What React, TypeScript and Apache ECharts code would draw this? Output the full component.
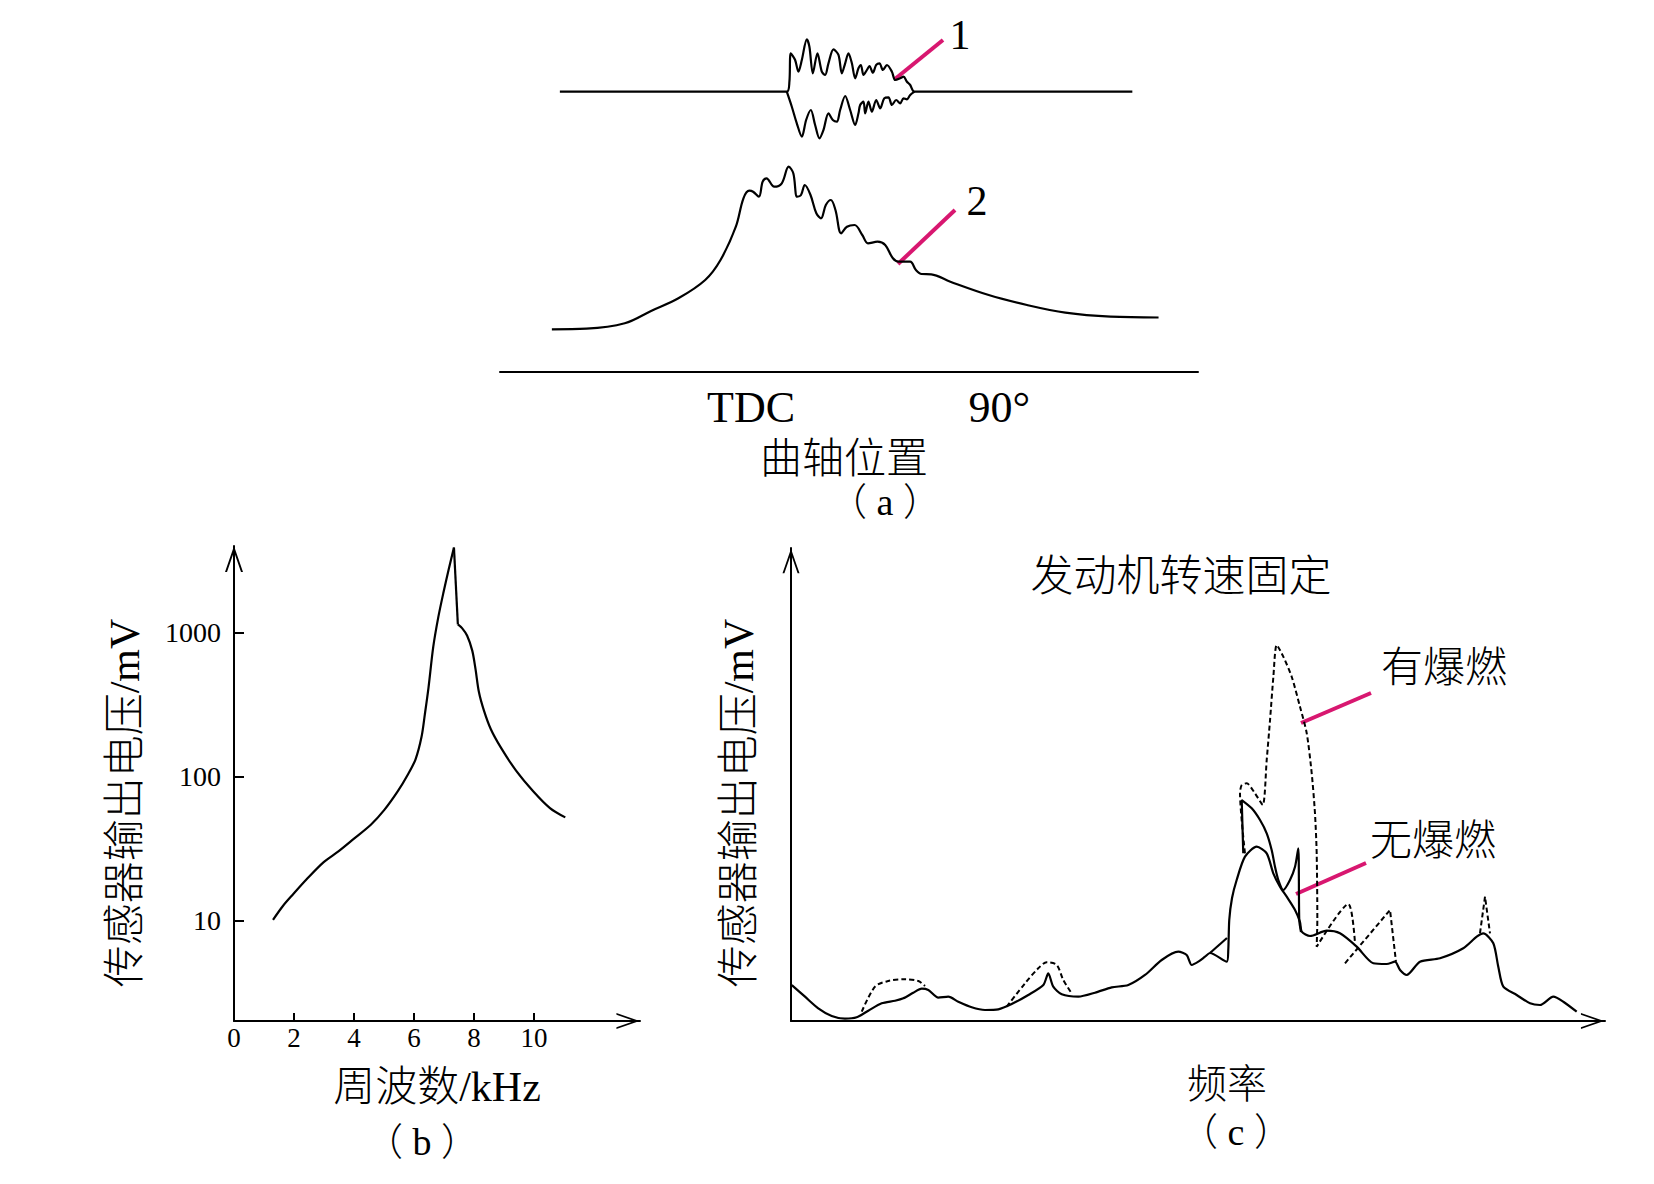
import React, { useEffect, useRef } from "react";
import * as echarts from "echarts";

// ---------- Panel (a): crank angle in degrees (TDC = 0), arbitrary amplitude ----------
const crankTicks = [0, 90];
const crankTickLabels = ["TDC", "90°"];

const vibrationUpper: number[][] = [
  [-69.3, 77.86], [12.95, 77.86], [13.9, 80.64], [14.4, 88.53], [15.97, 86.67], [17.16, 83.42],
  [18.4, 86.67], [20.21, 92.42], [21.15, 90.36], [22.39, 82.97], [24.06, 88.53], [25.65, 83.42],
  [26.85, 82.5], [28.05, 85.75], [29.86, 89.64], [31.68, 88.06], [32.91, 82.97], [34.11, 85.75],
  [35.3, 88.53], [36.54, 85.75], [37.74, 81.58], [38.93, 84.36], [39.8, 85.28], [40.75, 82.5],
  [41.98, 83.89], [42.92, 85.0], [44.16, 83.14], [45.36, 85.28], [46.55, 85.75], [47.79, 83.89],
  [49.24, 85.28], [51.05, 83.42], [52.25, 81.11], [54.06, 81.58], [55.26, 82.03], [56.49, 80.64],
  [57.69, 79.72], [59.25, 77.86], [138.2, 77.86],
];
const vibrationLower: number[][] = [
  [12.95, 77.86], [14.77, 73.69], [16.58, 69.08], [18.4, 65.36], [19.96, 70.0], [21.66, 72.78],
  [23.22, 68.61], [24.78, 64.92], [26.23, 67.22], [28.05, 71.86], [29.64, 70.0], [31.1, 69.53],
  [32.29, 72.78], [34.11, 76.67], [35.92, 72.78], [37.74, 68.61], [38.93, 71.86], [39.55, 74.17],
  [40.75, 75.08], [41.36, 71.86], [42.56, 75.08], [43.79, 72.31], [45.36, 75.56], [46.81, 73.25],
  [48.26, 76.03], [49.82, 76.31], [51.05, 74.17], [52.61, 75.56], [54.06, 74.64], [55.26, 76.03],
  [56.49, 75.75], [57.69, 76.94], [59.25, 77.86],
];
const pressureTrace: number[][] = [
  [-72.2, 11.86], [-59.69, 12.03], [-45.79, 13.53], [-36.07, 17.03], [-26.34, 20.47], [-16.62, 25.56],
  [-11.07, 31.11], [-5.52, 40.36], [-2.76, 48.25], [-0.65, 50.36], [0.73, 50.08], [2.83, 48.69],
  [4.21, 52.86], [5.59, 53.81], [8.38, 51.47], [11.14, 52.42], [13.64, 57.03], [15.31, 55.19],
  [16.69, 48.69], [18.11, 49.17], [19.48, 51.94], [21.55, 49.17], [23.66, 44.08], [25.33, 42.69],
  [27.1, 46.39], [28.92, 47.78], [30.59, 45.0], [32.66, 38.53], [34.76, 40.36], [37.52, 40.83],
  [40.31, 38.06], [42.38, 35.75], [45.86, 36.19], [48.62, 35.28], [51.42, 31.58], [53.48, 30.64],
  [57.66, 30.64], [59.76, 28.33], [61.83, 27.22], [65.31, 27.14], [72.24, 25.08], [86.14, 21.39],
  [100.0, 18.61], [113.9, 16.47], [130.3, 15.36], [147.7, 15.14],
];

// ---------- Panel (b): frequency (kHz) vs sensor output (mV), log scale ----------
const kHzTicks = [0, 2, 4, 6, 8, 10];
const mVTicks = [10, 100, 1000];
const resonanceRise: number[][] = [
  [1.3, 10.1], [1.63, 12.6], [1.97, 15.2], [2.42, 19.3], [2.98, 25.3], [3.49, 30.3], [4.0, 37.0],
  [4.56, 46.2], [5.01, 58.6], [5.46, 79.1], [5.8, 103.7], [6.05, 131.8], [6.25, 188.9], [6.36, 270.5],
  [6.48, 411.9], [6.64, 795.6], [6.81, 1286], [6.98, 1900], [7.15, 2722], [7.33, 3899],
];
const resonanceFall: number[][] = [
  [7.46, 1141], [7.6, 1075], [7.77, 952], [7.94, 750], [8.05, 556], [8.16, 388], [8.33, 287],
  [8.56, 213], [8.9, 158], [9.4, 110], [9.97, 79.1], [10.53, 60.4], [11.04, 52.0],
];

// ---------- Panel (c): frequency vs sensor output, arbitrary units ----------
const noKnockSpectrum: number[][] = [
  [0.1, 7.6], [1.72, 5.14], [3.35, 2.68], [5.0, 1.06], [6.63, 0.49], [8.07, 0.78], [9.5, 2.18],
  [11.14, 3.74], [12.78, 4.29], [13.8, 4.8], [15.02, 5.98], [16.06, 6.83], [16.87, 6.55], [18.1, 4.93],
  [19.32, 5.14], [20.55, 4.08], [22.2, 2.9], [23.83, 2.33], [25.47, 2.47], [27.11, 3.59], [29.15, 5.5],
  [31.0, 7.61], [31.61, 10.08], [32.22, 7.25], [33.26, 5.64], [35.3, 5.14], [37.35, 5.98], [39.4, 7.12],
  [41.44, 7.61], [43.49, 9.73], [45.54, 12.9], [47.58, 14.65], [48.61, 13.95], [49.23, 11.84],
  [50.04, 12.54], [50.86, 13.59], [51.47, 14.38], [53.53, 12.54], [53.72, 15.01], [53.84, 21.35],
  [54.18, 26.0], [54.75, 29.81], [55.77, 34.74], [57.21, 36.85], [58.44, 35.45], [59.25, 31.23],
  [60.07, 28.39], [60.9, 26.28], [61.92, 23.47], [62.53, 20.93], [62.74, 18.88], [63.76, 17.97],
  [65.81, 19.09], [67.44, 18.54], [69.5, 15.71], [71.54, 12.2], [73.18, 12.05], [74.2, 12.54],
  [74.82, 10.78], [75.64, 9.73], [77.27, 12.54], [79.73, 13.26], [82.59, 15.37], [84.24, 17.82],
  [85.05, 18.54], [86.28, 16.43], [86.89, 11.48], [87.51, 7.25], [89.15, 5.5], [90.79, 3.74],
  [92.01, 3.38], [93.65, 5.14], [94.88, 4.08], [96.52, 1.97],
];
const knockSolidRamp: number[][] = [[51.47, 14.38], [53.56, 17.55]];
const knockSolidArc: number[][] = [
  [55.56, 35.45], [55.37, 46.72], [56.6, 44.97], [57.62, 42.49], [58.44, 39.68], [59.05, 36.15],
  [59.46, 32.62], [59.87, 29.81], [60.48, 27.7], [61.3, 29.81], [61.92, 32.62], [62.32, 36.51],
  [62.44, 21.35], [62.65, 18.82],
];
const knockDashedLow1: number[][] = [
  [8.69, 1.97], [10.32, 7.25], [11.95, 8.46], [14.0, 8.82], [15.64, 8.46], [16.46, 7.4],
];
const knockDashedLow2: number[][] = [
  [26.5, 3.02], [28.75, 7.97], [30.38, 11.14], [31.41, 12.41], [32.64, 11.84], [33.45, 8.67], [34.48, 5.86],
];
const knockDashedPeak: number[][] = [
  [55.77, 35.45], [55.16, 48.14], [55.37, 49.89], [55.98, 50.25], [57.0, 48.14], [57.95, 45.67],
  [58.44, 55.18], [58.85, 63.64], [59.26, 72.79], [59.67, 79.49], [60.48, 77.02], [61.51, 72.79],
  [62.53, 66.45], [63.36, 60.82], [63.97, 52.37], [64.37, 43.91], [64.58, 35.45], [64.66, 21.35],
  [64.58, 15.71], [68.46, 24.74], [69.29, 16.43],
];
const knockDashedZig: number[][] = [[68.06, 12.2], [73.59, 23.47], [74.32, 12.54]];
const knockDashedTip: number[][] = [[84.64, 18.54], [85.26, 26.28], [85.87, 18.54]];

// ---------- styling ----------
const SERIF = "'Liberation Serif', 'Times New Roman', 'Noto Sans CJK SC', serif";
const INK = "#000";
const ACCENT = "#d81770";
const ARROW = "path://M9,0L18,26L16,26L9,5.8L2,26L0,26Z";

const axisLineArrow = (w: number, h: number) => ({
  show: true,
  onZero: false,
  symbol: ["none", ARROW],
  symbolSize: [w, h],
  symbolOffset: [0, -h / 2],
  lineStyle: { color: INK, width: 2 },
});

const solid = (data: number[][], idx: number, smooth: number | boolean = 0.3) => ({
  type: "line",
  xAxisIndex: idx,
  yAxisIndex: idx,
  data,
  symbol: "none",
  smooth,
  silent: true,
  clip: false,
  emphasis: { disabled: true },
  lineStyle: { color: INK, width: 2.2, type: "solid" },
});
const dashed = (data: number[][], idx: number, smooth: number | boolean = 0.3) => ({
  ...solid(data, idx, smooth),
  lineStyle: { color: INK, width: 2, type: [5, 3] },
});

const txt = (text: string, x: number, y: number, fontSize: number, rotation = 0, fontWeight = 300) => ({
  type: "text",
  x,
  y,
  rotation,
  silent: true,
  style: {
    text, fontSize, fontFamily: SERIF, fontWeight, fill: INK, align: "center", verticalAlign: "middle",
  },
});
const leader = (x1: number, y1: number, x2: number, y2: number) => ({
  type: "line",
  silent: true,
  shape: { x1, y1, x2, y2 },
  style: { stroke: ACCENT, lineWidth: 4 },
});

const option: any = {
  animation: false,
  backgroundColor: "#fff",
  grid: [
    { left: 500, right: 456, top: 12, bottom: 812, outerBoundsMode: "none" },
    { left: 234, right: 1014, top: 546, bottom: 163, outerBoundsMode: "none" },
    { left: 791, right: 49, top: 548, bottom: 163, outerBoundsMode: "none" },
  ],
  xAxis: [
    {
      gridIndex: 0, type: "value", min: -91, max: 162,
      axisLine: { show: true, onZero: false, lineStyle: { color: INK, width: 2 } },
      axisTick: { show: false },
      splitLine: { show: false },
      axisLabel: {
        customValues: crankTicks,
        formatter: (v: number) => crankTickLabels[crankTicks.indexOf(v)] ?? "",
        fontSize: 44, fontFamily: SERIF, color: INK, margin: 13,
      },
    },
    {
      gridIndex: 1, type: "value", min: 0, max: 13.53,
      axisLine: axisLineArrow(16, 24),
      axisTick: { show: true, inside: true, length: 8, customValues: kHzTicks, lineStyle: { color: INK, width: 2 } },
      splitLine: { show: false },
      axisLabel: {
        customValues: kHzTicks, formatter: (v: number) => String(v),
        fontSize: 27, fontFamily: SERIF, color: INK, margin: 3,
      },
    },
    {
      gridIndex: 2, type: "value", min: 0, max: 100,
      axisLine: axisLineArrow(16, 25),
      axisTick: { show: false }, axisLabel: { show: false }, splitLine: { show: false },
    },
  ],
  yAxis: [
    { gridIndex: 0, type: "value", min: 0, max: 100, show: false },
    {
      gridIndex: 1, type: "log", logBase: 10, min: 2, max: 4000,
      axisLine: axisLineArrow(18, 26),
      axisTick: { show: true, inside: true, length: 10, customValues: mVTicks, lineStyle: { color: INK, width: 2 } },
      splitLine: { show: false },
      axisLabel: {
        customValues: mVTicks, formatter: (v: number) => String(Math.round(v)),
        fontSize: 28, fontFamily: SERIF, color: INK, margin: 13,
      },
    },
    {
      gridIndex: 2, type: "value", min: 0, max: 100,
      axisLine: axisLineArrow(17, 26),
      axisTick: { show: false }, axisLabel: { show: false }, splitLine: { show: false },
    },
  ],
  series: [
    solid(vibrationUpper, 0, 0.3),
    solid(vibrationLower, 0, 0.3),
    solid(pressureTrace, 0, 0.35),
    solid(resonanceRise, 1, 0.3),
    solid([resonanceRise[resonanceRise.length - 1], resonanceFall[0]], 1, false),
    solid(resonanceFall, 1, 0.3),
    solid(noKnockSpectrum, 2, 0.25),
    solid(knockSolidRamp, 2, false),
    solid(knockSolidArc, 2, 0.25),
    dashed(knockDashedLow1, 2, 0.3),
    dashed(knockDashedLow2, 2, 0.3),
    dashed(knockDashedPeak, 2, 0.25),
    dashed(knockDashedZig, 2, false),
    dashed(knockDashedTip, 2, false),
  ],
  graphic: [
    leader(895, 79, 943, 40),
    leader(898, 264, 955, 210),
    leader(1301, 723, 1371, 693),
    leader(1296, 894, 1366, 863),
    txt("1", 960, 35, 42, 0, 400),
    txt("2", 977, 201, 42, 0, 400),
    txt("曲轴位置", 844, 459, 42),
    txt("（ a ）", 885, 502, 38),
    txt("传感器输出电压/mV", 125, 803, 42, Math.PI / 2),
    txt("周波数/kHz", 437, 1087, 42),
    txt("（ b ）", 422, 1142, 38),
    txt("发动机转速固定", 1181, 576, 43),
    txt("有爆燃", 1444, 668, 42),
    txt("无爆燃", 1433, 841, 42),
    txt("传感器输出电压/mV", 739, 803, 42, Math.PI / 2),
    txt("频率", 1227, 1084, 40),
    txt("（ c ）", 1236, 1132, 38),
  ],
};

export default function App() {
  const ref = useRef<HTMLDivElement>(null);
  useEffect(() => {
    if (!ref.current) return;
    const chart = echarts.init(ref.current, null, { renderer: "svg", width: 1654, height: 1184 });
    chart.setOption(option);
    return () => chart.dispose();
  }, []);
  return (
    <div
      ref={ref}
      style={{ position: "fixed", left: 0, top: 0, width: 1654, height: 1184, background: "#fff" }}
    />
  );
}
